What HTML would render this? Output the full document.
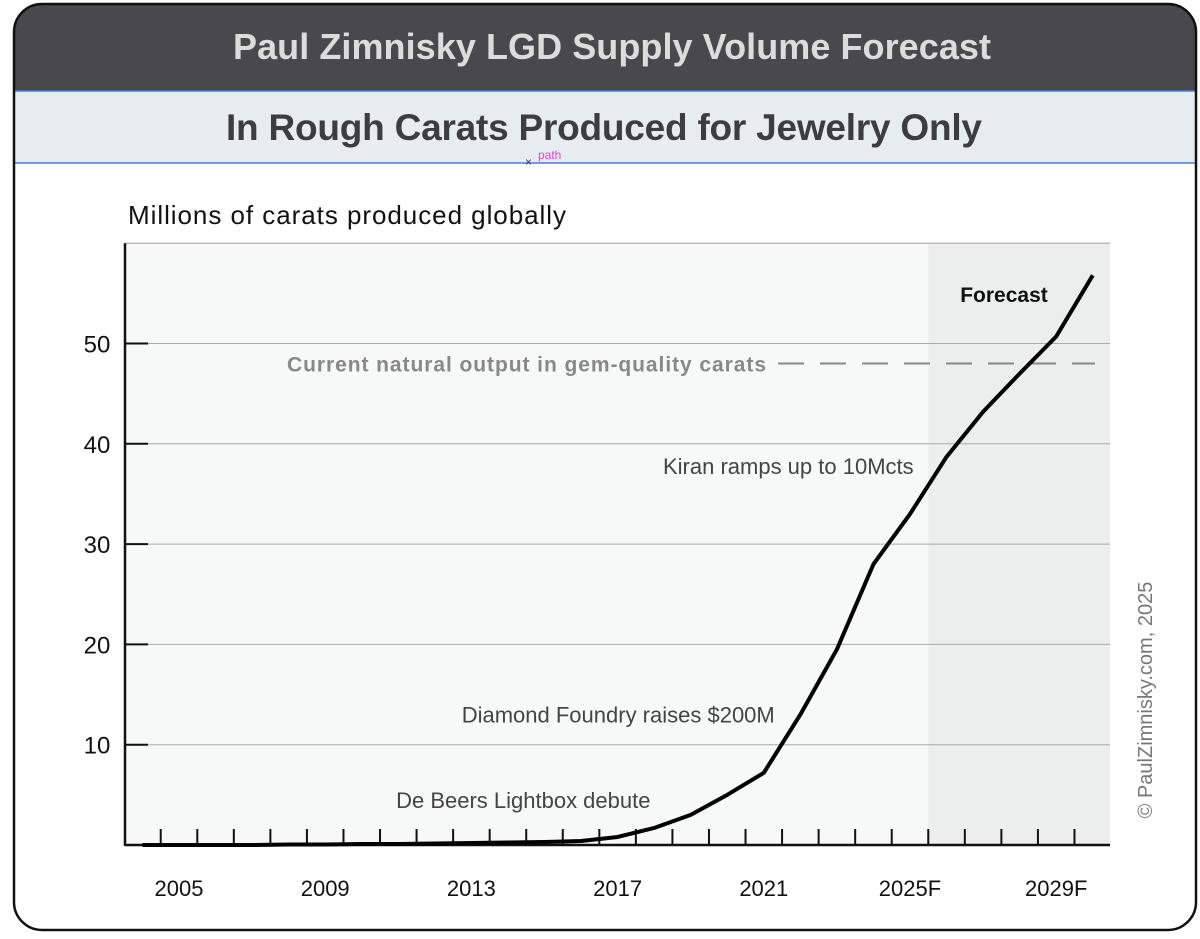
<!DOCTYPE html>
<html><head><meta charset="utf-8"><style>
body{margin:0;width:1200px;height:934px;background:#fff;font-family:"Liberation Sans",sans-serif;overflow:hidden}
</style></head><body>
<svg width="1200" height="934">
<defs><clipPath id="cp"><rect x="14" y="4" width="1182" height="926" rx="28"/></clipPath></defs>
<g clip-path="url(#cp)">
<rect x="14" y="4" width="1182" height="87" fill="#49494b"/>
<rect x="14" y="91" width="1182" height="72" fill="#e6ecf0" stroke="#4a7de0" stroke-width="1.5"/>
</g>
<rect x="14" y="4" width="1182" height="926" rx="28" fill="none" stroke="#111" stroke-width="2.5"/>
<text x="612" y="59" text-anchor="middle" font-size="36" font-weight="bold" fill="#dcdcdc" textLength="758">Paul Zimnisky LGD Supply Volume Forecast</text>
<text x="604" y="140" text-anchor="middle" font-size="37" font-weight="bold" fill="#3a3d42" textLength="756">In Rough Carats Produced for Jewelry Only</text>
<text x="525" y="166" font-size="12" fill="#334">×</text>
<text x="538" y="159" font-size="12" fill="#e040e0">path</text>
<text x="128" y="224" font-size="26" fill="#111" textLength="438">Millions of carats produced globally</text>
<g id="plot"></g>
<text x="1152" y="700" font-size="20" fill="#777" transform="rotate(-90 1152 700)" text-anchor="middle">© PaulZimnisky.com, 2025</text>
</svg>
<script>
const years=[2004,2005,2006,2007,2008,2009,2010,2011,2012,2013,2014,2015,2016,2017,2018,2019,2020,2021,2022,2023,2024,2025,2026,2027,2028,2029,2030];
const values=[0,0,0,0,0.05,0.05,0.1,0.1,0.15,0.2,0.25,0.3,0.4,0.8,1.7,3,5,7.2,13,19.5,28,33,38.7,43.2,47,50.7,56.8];
const yTicks=[10,20,30,40,50];
const xLabels=["2005","2009","2013","2017","2021","2025F","2029F"];
const xLabelYears=[2005,2009,2013,2017,2021,2025,2029];
const naturalOutput=48;
const forecastStart=2025.5;
const notes=[["Kiran ramps up to 10Mcts",2025.1,37.0],["Diamond Foundry raises $200M",2021.3,12.2],["De Beers Lightbox debute",2017.9,3.7]];
const X=y=>179+(y-2005)*36.55, Y=v=>845-v*10.03;
const ns="http://www.w3.org/2000/svg", g=document.getElementById('plot');
function el(t,a,txt){const e=document.createElementNS(ns,t);for(const k in a)e.setAttribute(k,a[k]);if(txt)e.textContent=txt;g.appendChild(e);return e;}
let e=el('rect',{x:125,y:Y(60),width:985,height:Y(0)-Y(60),fill:'#f7f8f8'});

e=el('rect',{x:X(forecastStart),y:Y(60),width:1110-X(forecastStart),height:Y(0)-Y(60),fill:'#eceded'});

e=el('line',{x1:125,x2:1110,y1:Y(60),y2:Y(60),stroke:'#bbb','stroke-width':1.5});

yTicks.forEach(v=>{
 e=el('line',{x1:125,x2:1110,y1:Y(v),y2:Y(v),stroke:'#aaa','stroke-width':1});
 
 e=el('line',{x1:125,x2:148,y1:Y(v),y2:Y(v),stroke:'#111','stroke-width':2});
 
 e=el('text',{x:97,y:Y(v)+9,'font-size':24,'text-anchor':'middle',fill:'#111'},String(v));
 
});
e=el('line',{x1:125,x2:125,y1:Y(60),y2:Y(0)+1,stroke:'#111','stroke-width':2.5});

e=el('line',{x1:125,x2:1110,y1:Y(0),y2:Y(0),stroke:'#111','stroke-width':2.5});

for(let yr=2004.5;yr<2030;yr++){
 e=el('line',{x1:X(yr),x2:X(yr),y1:Y(0),y2:Y(0)-16,stroke:'#111','stroke-width':2});
 
}
xLabels.forEach((l,i)=>{
 e=el('text',{x:X(xLabelYears[i]),y:896,'font-size':22,'text-anchor':'middle',fill:'#111'},l);
 
});
e=el('line',{x1:778,x2:1095,y1:Y(naturalOutput),y2:Y(naturalOutput),stroke:'#888','stroke-width':2,'stroke-dasharray':'26 16'});

e=el('text',{x:766,y:Y(naturalOutput)+8,'font-size':21,'font-weight':'bold','text-anchor':'end',fill:'#888',textLength:479},'Current natural output in gem-quality carats');

e=el('text',{x:1004,y:302,'font-size':21,'font-weight':'bold','text-anchor':'middle',fill:'#111'},'Forecast');

notes.forEach(n=>{
 e=el('text',{x:X(n[1]),y:Y(n[2]),'font-size':22,'text-anchor':'end',fill:'#444'},n[0]);
 
});
e=el('polyline',{points:years.map((y,i)=>X(y)+','+Y(values[i])).join(' '),fill:'none',stroke:'#000','stroke-width':4,'stroke-linejoin':'round'});

</script>
</body></html>
